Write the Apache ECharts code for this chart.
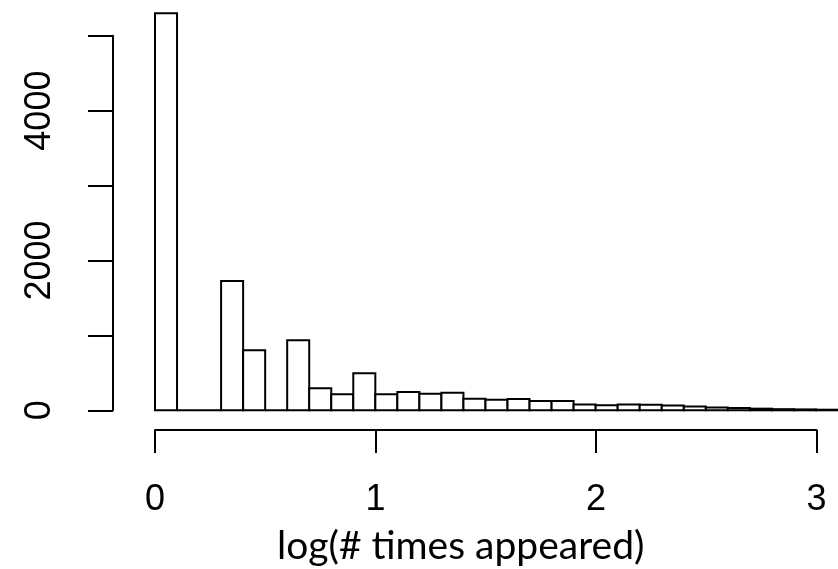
<!DOCTYPE html>
<html>
<head>
<meta charset="utf-8">
<script src="https://cdn.jsdelivr.net/npm/echarts@6/dist/echarts.min.js"></script>
<style>
html,body{margin:0;padding:0;background:#fff;}
#chart{width:838px;height:569px;}
</style>
</head>
<body>
<div id="chart"></div>
<script>
// Histogram bins (lower edge, upper edge) of log10(# times appeared)
const binLower = [0.0,0.1,0.2,0.3,0.4,0.5,0.6,0.7,0.8,0.9,1.0,1.1,1.2,1.3,1.4,1.5,1.6,1.7,1.8,1.9,2.0,2.1,2.2,2.3,2.4,2.5,2.6,2.7,2.8,2.9,3.0];
const binUpper = [0.1,0.2,0.3,0.4,0.5,0.6,0.7,0.8,0.9,1.0,1.1,1.2,1.3,1.4,1.5,1.6,1.7,1.8,1.9,2.0,2.1,2.2,2.3,2.4,2.5,2.6,2.7,2.8,2.9,3.0,3.1];
const counts   = [5300,0,0,1725,800,0,935,295,215,495,215,245,220,235,155,140,150,125,125,78,68,78,75,63,52,38,30,22,15,12,8];
const xTicks = [0, 1, 2, 3];
const yTickLabels = [0, 2000, 4000];
const xLabel = 'log(# times appeared)';

const data = binLower.map((lo, i) => [lo, binUpper[i], counts[i]]);

const chart = echarts.init(document.getElementById('chart'), null, {renderer: 'canvas'});

function renderItem(params, api) {
  const p0 = api.coord([api.value(0), api.value(2)]);
  const p1 = api.coord([api.value(1), 0]);
  return {
    type: 'rect',
    shape: {x: p0[0], y: p0[1], width: p1[0] - p0[0], height: p1[1] - p0[1]},
    style: {fill: '#ffffff', stroke: '#000000', lineWidth: 2}
  };
}

const option = {
  animation: false,
  backgroundColor: '#ffffff',
  title: {
    text: xLabel,
    left: 272,
    top: 522,
    textStyle: {fontFamily: 'Lato', fontSize: 39, fontWeight: 'normal', color: '#000'}
  },
  grid: [
    {left: 155, top: 35.7, width: 683.55, height: 374.6},
    {left: 155, top: 420, width: 661.5, height: 10},
    {left: 113, top: 35.7, width: 10, height: 374.6}
  ],
  xAxis: [
    {gridIndex: 0, type: 'value', min: 0, max: 3.1, show: false},
    {
      gridIndex: 1, type: 'value', min: xTicks[0], max: xTicks[xTicks.length - 1], interval: 1,
      position: 'bottom',
      axisLine: {show: true, lineStyle: {color: '#000', width: 2}},
      axisTick: {show: true, length: 23, lineStyle: {color: '#000', width: 2}},
      splitLine: {show: false},
      axisLabel: {
        show: true, margin: 52, color: '#000', fontSize: 36, fontFamily: 'Liberation Sans',
        formatter: v => xTicks.includes(v) ? String(v) : ''
      }
    },
    {gridIndex: 2, type: 'value', show: false}
  ],
  yAxis: [
    {gridIndex: 0, type: 'value', min: 0, max: 5000, show: false},
    {gridIndex: 1, type: 'value', show: false},
    {
      gridIndex: 2, type: 'value', min: 0, max: 5000, interval: 1000,
      position: 'left',
      axisLine: {show: true, lineStyle: {color: '#000', width: 2}},
      axisTick: {show: true, length: 25, lineStyle: {color: '#000', width: 2}},
      splitLine: {show: false},
      axisLabel: {
        show: true, rotate: 90, margin: 55, color: '#000', fontSize: 36, fontFamily: 'Liberation Sans',
        formatter: v => yTickLabels.includes(v) ? String(v) : ''
      }
    }
  ],
  series: [{
    type: 'custom',
    xAxisIndex: 0,
    yAxisIndex: 0,
    clip: false,
    renderItem: renderItem,
    encode: {x: [0, 1], y: 2},
    data: data
  }]
};
chart.setOption(option);
</script>
</body>
</html>
